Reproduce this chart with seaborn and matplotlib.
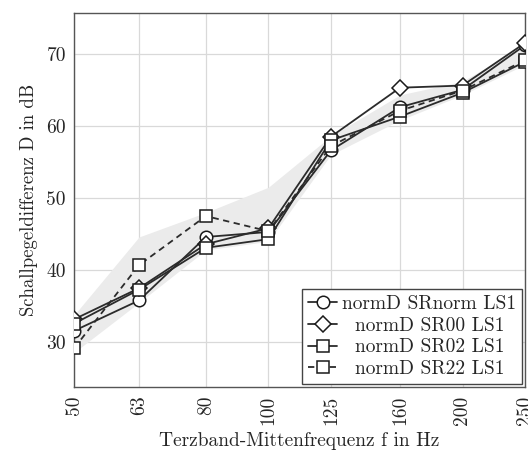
import matplotlib
matplotlib.use("Agg")
import matplotlib.pyplot as plt
import seaborn as sns
import pandas as pd

freqs = [50, 63, 80, 100, 125, 160, 200, 250]
tick_labels = ["50", "63", "80", "100", "125", "160", "200", "250"]
sr_norm = [31.6, 35.8, 44.6, 45.3, 56.6, 62.6, 65.0, 71.2]
sr_00 = [33.2, 37.5, 43.6, 45.8, 58.5, 65.3, 65.6, 71.5]
sr_02 = [32.6, 37.3, 43.1, 44.3, 58.0, 61.3, 64.6, 68.9]
sr_22 = [29.2, 40.7, 47.5, 45.4, 57.2, 62.1, 64.9, 69.1]
band_lo = [28.6, 35.5, 42.8, 44.0, 56.0, 60.8, 64.3, 68.5]
band_hi = [33.8, 44.6, 48.0, 51.5, 58.6, 64.3, 66.2, 71.2]

labels = ["normD SRnorm LS1", "normD SR00 LS1", "normD SR02 LS1", "normD SR22 LS1"]
series = [sr_norm, sr_00, sr_02, sr_22]

sns.set_style("white")
plt.rcParams["font.family"] = ["cmr10", "DejaVu Serif"]
plt.rcParams["axes.formatter.use_mathtext"] = True
plt.rcParams["mathtext.fontset"] = "cm"

fig = plt.figure(figsize=(5.28, 4.57), dpi=100)
ax = fig.add_axes([0.1407, 0.1532, 0.8536, 0.819])

ax.fill_between(freqs, band_lo, band_hi, color="#ebebeb", lw=0, zorder=1)

styles = [
    dict(marker="o", ms=9, dashes=False),
    dict(marker="D", ms=8, dashes=False),
    dict(marker="s", ms=9, dashes=False),
    dict(marker="s", ms=9, dashes=True),
]
for vals, lab, st in zip(series, labels, styles):
    df = pd.DataFrame({"f": freqs, "D": vals})
    kw = dict(color="#2b2b2b", lw=1.3, marker=st["marker"], markersize=st["ms"],
              markerfacecolor="white", markeredgecolor="#1a1a1a", markeredgewidth=1.1,
              label=lab, zorder=3)
    if st["dashes"]:
        kw["linestyle"] = (0, (3.5, 2.5))
    sns.lineplot(data=df, x="f", y="D", ax=ax, **kw)

ax.set_xscale("log")
ax.set_xlim(50, 250)
ax.set_ylim(23.8, 75.7)
ax.set_xticks(freqs)
ax.set_xticklabels(tick_labels, rotation=90, fontsize=14)
ax.minorticks_off()
ax.set_yticks([30, 40, 50, 60, 70])
ax.set_yticklabels(["30", "40", "50", "60", "70"], fontsize=14)
ax.tick_params(length=0, pad=6)
ax.grid(True, color="#d9d9d9", lw=0.9, zorder=0)
ax.set_axisbelow(True)
for sp in ax.spines.values():
    sp.set_color("#555555")
    sp.set_linewidth(1.0)

ax.set_xlabel("Terzband-Mittenfrequenz f in Hz", fontsize=14, labelpad=5)
ax.set_ylabel("Schallpegeldifferenz D in dB", fontsize=13.5, labelpad=6)

handles, _ = ax.get_legend_handles_labels()
leg_labels = [labels[0], "  " + labels[1], "  " + labels[2], "  " + labels[3]]
leg = ax.legend(handles, leg_labels, loc="lower right", fontsize=14, frameon=True,
                fancybox=False, edgecolor="#444444", framealpha=1,
                borderaxespad=0.15, handlelength=1.5, handletextpad=0.25,
                labelspacing=0.2, borderpad=0.3)
leg.get_frame().set_linewidth(1.0)

fig.savefig("out.png", dpi=100)
